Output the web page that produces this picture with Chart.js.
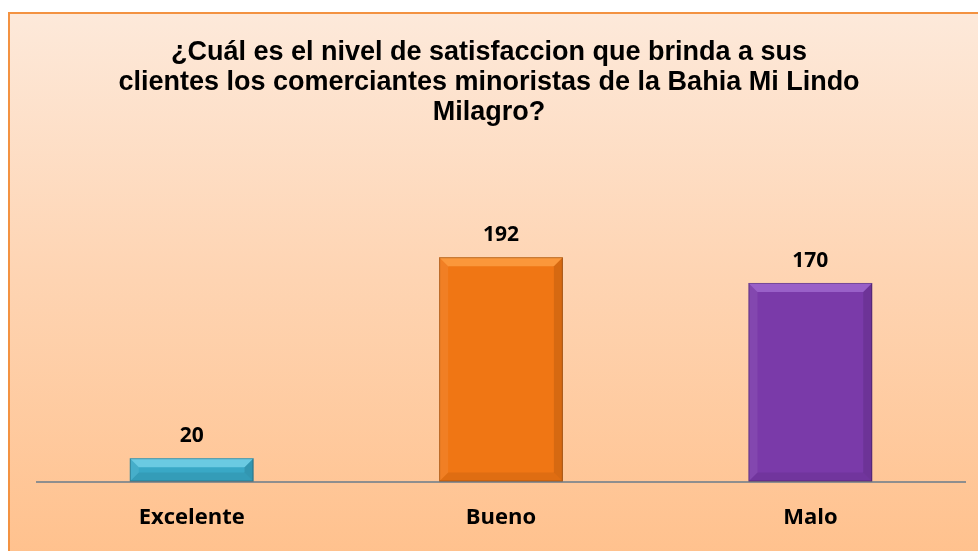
<html>
    <head>
        <meta charset="utf-8" />
        <title>Nivel de satisfaccion</title>
        <script src="https://cdn.jsdelivr.net/npm/chart.js"></script>
        <style>
            body { margin: 0; background: white; width: 978px; height: 551px; overflow: hidden; }
            #marco {
                position: absolute; left: 8px; top: 12px; width: 990px; height: 560px;
                border: 2px solid #F39241;
                background: linear-gradient(to bottom, #FDE9DA 0%, #FED5B4 45%, #FFC08B 100%);
            }
            #wrap { position: absolute; left: 0; top: 0; width: 978px; height: 551px; }
        </style>
    </head>
    <body>
        <div id="marco"></div>
        <div id="wrap"><canvas id="grafico" width="978" height="551"></canvas></div>
        <script>
            // datos
            const titulo = ["¿Cuál es el nivel de satisfaccion que brinda a sus",
                            "clientes los comerciantes minoristas de la Bahia Mi Lindo",
                            "Milagro?"];
            const categorias = ["Excelente", "Bueno", "Malo"];
            const valores = [20, 192, 170];
            const colores = ["#39A8C6", "#F07614", "#7A3AA9"];
            const claros = ["#7FD8EE", "#FFA54A", "#A670D6"];

            // titulo, etiquetas y bisel de las barras
            const extras = {
                id: 'extras',
                afterDatasetsDraw(chart) {
                    const c = chart.ctx;
                    const meta = chart.getDatasetMeta(0);
                    meta.data.forEach(function(bar, i) {
                        const l = bar.x - bar.width / 2, r = bar.x + bar.width / 2;
                        const t = bar.y, b = bar.base;
                        const bev = Math.min(9, (b - t) / 2);
                        c.save();
                        // franja clara arriba
                        c.fillStyle = claros[i];
                        c.globalAlpha = 0.7;
                        c.beginPath();
                        c.moveTo(l, t); c.lineTo(r, t); c.lineTo(r - bev, t + bev); c.lineTo(l + bev, t + bev);
                        c.closePath(); c.fill();
                        // lado derecho y abajo oscuro
                        c.fillStyle = "rgba(0,0,0,0.15)";
                        c.beginPath();
                        c.moveTo(r, t); c.lineTo(r, b); c.lineTo(r - bev, b - bev); c.lineTo(r - bev, t + bev);
                        c.closePath(); c.fill();
                        c.fillStyle = "rgba(0,0,0,0.1)";
                        c.beginPath();
                        c.moveTo(l, b); c.lineTo(r, b); c.lineTo(r - bev, b - bev); c.lineTo(l + bev, b - bev);
                        c.closePath(); c.fill();
                        c.fillStyle = "rgba(255,255,255,0.1)";
                        c.beginPath();
                        c.moveTo(l, t); c.lineTo(l + bev, t + bev); c.lineTo(l + bev, b - bev); c.lineTo(l, b);
                        c.closePath(); c.fill();
                        c.globalAlpha = 1;
                        c.strokeStyle = "rgba(0,0,0,0.25)";
                        c.lineWidth = 1;
                        c.strokeRect(l + 0.5, t + 0.5, r - l - 1, b - t - 1);
                        // valor
                        c.fillStyle = "#000";
                        c.font = "bold 21px 'Open Sans'";
                        c.textAlign = "center";
                        c.textBaseline = "alphabetic";
                        c.fillText(valores[i], bar.x, t - 16);
                        c.restore();
                    });
                    c.save();
                    c.fillStyle = "#000";
                    c.font = "bold 27px 'Liberation Sans'";
                    c.textAlign = "center";
                    titulo.forEach(function(linea, k) {
                        c.fillText(linea, 489, 60 + k * 30);
                    });
                    c.restore();
                }
            };

            const ctx = document.getElementById('grafico').getContext('2d');
            const myChart = new Chart(ctx, {
                type: 'bar',
                data: {
                    labels: categorias,
                    datasets: [{
                        data: valores,
                        backgroundColor: colores,
                        borderWidth: 0,
                        categoryPercentage: 1,
                        barPercentage: 0.4
                    }]
                },
                options: {
                    responsive: false,
                    animation: false,
                    layout: {
                        padding: { left: 37, right: 13, top: 131, bottom: -3 }
                    },
                    plugins: {
                        legend: { display: false },
                        tooltip: { enabled: false }
                    },
                    scales: {
                        y: { display: false, min: 0, max: 300 },
                        x: {
                            grid: { display: false, drawTicks: false },
                            border: { color: "#8E8E8E", width: 2 },
                            ticks: {
                                color: "#000",
                                padding: 23,
                                font: { family: "Open Sans", weight: "bold", size: 22 }
                            }
                        }
                    }
                },
                plugins: [extras]
            });
        </script>
    </body>
</html>
